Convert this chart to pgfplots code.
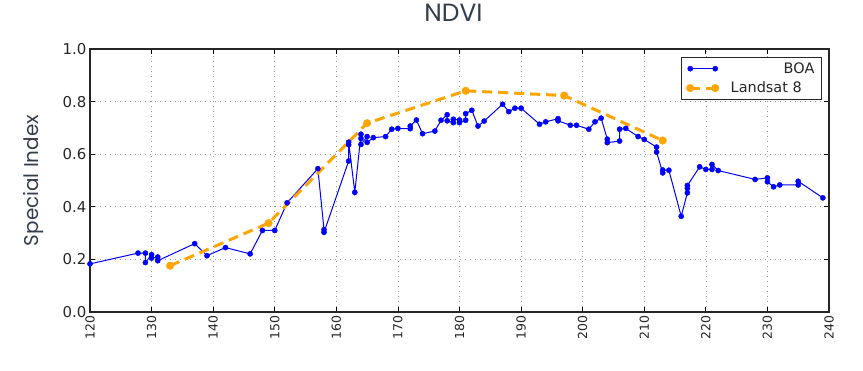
\documentclass[border=0pt]{standalone}
\usepackage{fontspec}
\setmainfont{DejaVu Sans}
\newfontfamily\titlefont{Poppins}
\usepackage{pgfplots}
\pgfplotsset{compat=1.18}
\definecolor{boablue}{RGB}{0,0,255}
\definecolor{lsorange}{RGB}{255,165,0}
\definecolor{labelcol}{RGB}{50,62,78}
\pgfplotstableread{
x y
120 0.183
127.8 0.224
129 0.224
129 0.188
130 0.218
130 0.205
131 0.209
131 0.195
137 0.260
139 0.214
142 0.245
146 0.221
148 0.310
150 0.310
152 0.415
157 0.545
158 0.313
158 0.303
162 0.574
162 0.636
162 0.646
163 0.455
164 0.676
164 0.660
164 0.637
165 0.667
165 0.645
166 0.663
168 0.667
169 0.695
170 0.698
172 0.697
172 0.707
173 0.730
174 0.678
176 0.688
177 0.729
178 0.750
178 0.727
179 0.720
179 0.733
180 0.730
180 0.720
181 0.729
181 0.754
182 0.767
183 0.707
184 0.726
187 0.790
188 0.762
189 0.775
190 0.775
193 0.714
194 0.723
196 0.735
196 0.727
198 0.710
199 0.710
201 0.695
202 0.723
203 0.737
204 0.657
204 0.644
206 0.650
206 0.695
207 0.698
209 0.667
210 0.656
212 0.627
212 0.608
213 0.529
213 0.540
214 0.539
216 0.364
217 0.453
217 0.470
217 0.481
219 0.552
220 0.542
221 0.542
221 0.561
222 0.538
228 0.504
230 0.510
230 0.495
231 0.476
232 0.483
235 0.483
235 0.497
239 0.434
}\boadata
\pgfplotstableread{
x y
133 0.176
149 0.338
165 0.718
181 0.841
197 0.823
213 0.652
}\lsdata
\begin{document}
\begin{tikzpicture}
\begin{axis}[name=ax, scale only axis, width=739bp, height=263bp,
  xmin=120, xmax=240, ymin=0, ymax=1,
  xtick={120,130,140,150,160,170,180,190,200,210,220,230,240},
  ytick={0,0.2,0.4,0.6,0.8,1.0},
  /pgf/number format/assume math mode=true,
  yticklabel style={/pgf/number format/fixed, /pgf/number format/fixed zerofill, /pgf/number format/precision=1},
  xticklabel style={/pgf/number format/1000 sep={}},
  tick align=inside, major tick length=5bp,
  tick style={black, line width=0.8bp},
  grid=major,
  major grid style={gray!80, line width=0.6bp, dash pattern=on 1bp off 4bp},
  axis line style={black!85, line width=1.3bp},
  x tick label style={rotate=90, anchor=east, font=\fontsize{12.5}{12.5}\selectfont, text=black!85},
  y tick label style={font=\fontsize{15}{15}\selectfont, text=black!85},
  title={\titlefont NDVI},
  title style={at={(0.5,1)}, anchor=center, xshift=-6bp, yshift=30bp, font=\fontsize{25}{25}\selectfont, text=labelcol},
  ylabel={\titlefont Special Index},
  ylabel style={at={(axis description cs:-0.077,0.5)}, anchor=center, font=\fontsize{20}{20}\selectfont, text=labelcol},
  legend style={at={(0.9905,0.9696)}, anchor=north east, draw=black!85, line width=1.2bp,
    font=\fontsize{14.5}{16}\selectfont, text=black!85, inner xsep=5bp, inner ysep=3bp, row sep=3bp,
    column sep=4bp},
  legend cell align=left,
  legend image code/.code={\draw[mark repeat=1,#1] plot coordinates {(0bp,0bp) (25bp,0bp)};\path (-2bp,0) (33bp,0);},
]
\addplot[color=boablue, line width=1bp, mark=*, mark size=2.6bp, mark options={solid, fill=boablue, draw=boablue, line width=0.4bp}] table[x=x,y=y] {\boadata};
\addlegendentry{\hspace{53bp}BOA}
\addplot[color=lsorange, line width=3bp, dash pattern=on 10bp off 6bp, mark=*, mark size=3.8bp, mark options={solid, fill=lsorange, draw=lsorange, line width=0.4bp}] table[x=x,y=y] {\lsdata};
\addlegendentry{Landsat 8}
\end{axis}
\path ([xshift=-90bp,yshift=-59bp]ax.south west) rectangle ++(863bp,371bp);
\end{tikzpicture}
\end{document}
